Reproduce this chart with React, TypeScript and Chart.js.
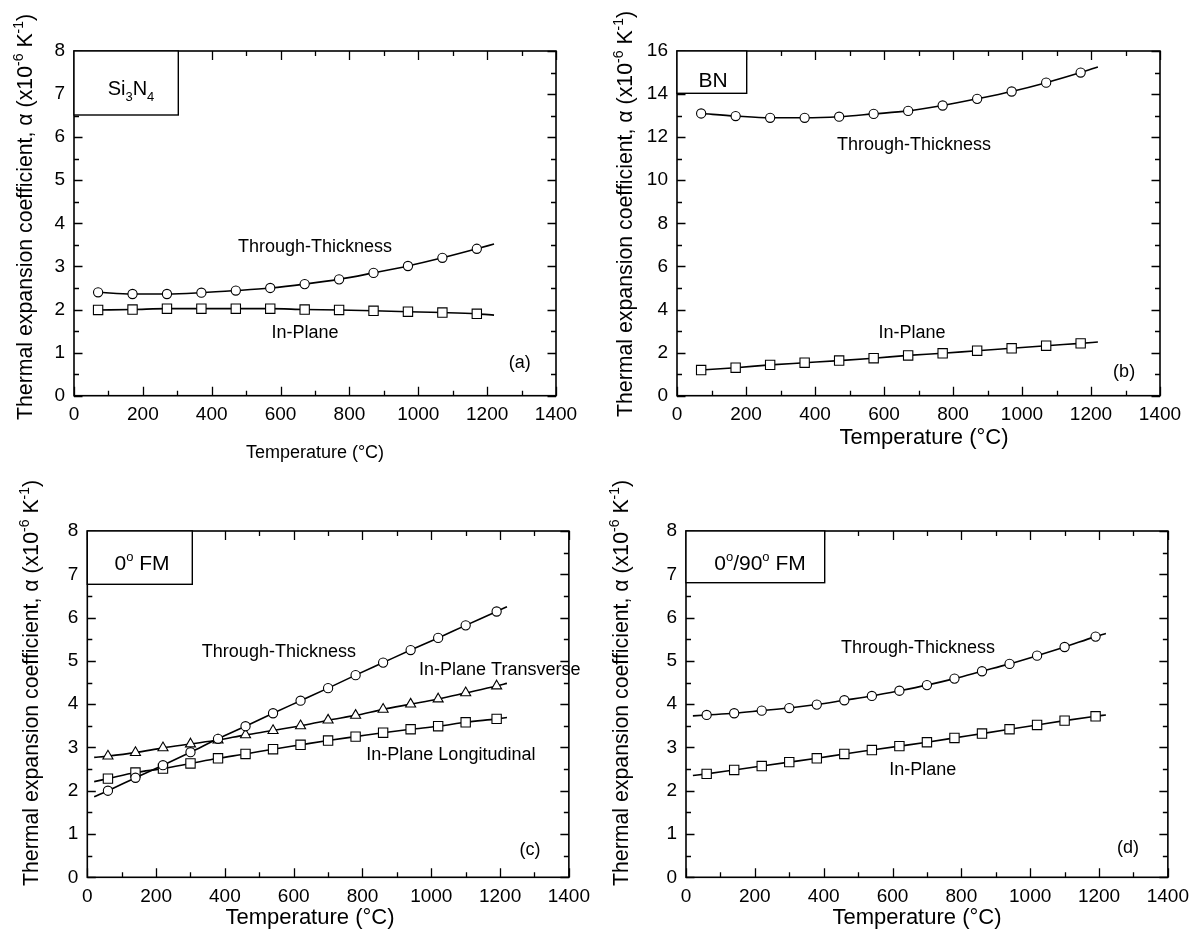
import React, { useEffect, useRef } from "react";
import { Chart, registerables } from "chart.js";

Chart.register(...registerables);

const FONT = '"Liberation Sans", Arial, Helvetica, sans-serif';

// ---------------- DATA ----------------
const X_TICKS_MAX = 1400;
const TEMP_AB = [70, 170, 270, 370, 470, 570, 670, 770, 870, 970, 1070, 1170];
const TEMP_CD = [60, 140, 220, 300, 380, 460, 540, 620, 700, 780, 860, 940, 1020, 1100, 1190];
const FIT_START_CD = 20;
const FIT_END = 1220;

// (a) Si3N4
const SI3N4_THROUGH = [2.4, 2.36, 2.36, 2.39, 2.44, 2.5, 2.59, 2.7, 2.85, 3.01, 3.2, 3.41];
const SI3N4_THROUGH_END = 3.52;
const SI3N4_INPLANE = [1.99, 2.0, 2.02, 2.02, 2.02, 2.02, 2.0, 1.99, 1.97, 1.95, 1.93, 1.9];
const SI3N4_INPLANE_END = 1.87;

// (b) BN
const BN_THROUGH = [13.1, 12.98, 12.9, 12.9, 12.95, 13.08, 13.22, 13.47, 13.78, 14.12, 14.53, 15.0];
const BN_THROUGH_END = 15.26;
const BN_INPLANE = [1.19, 1.3, 1.43, 1.53, 1.63, 1.74, 1.87, 1.97, 2.09, 2.2, 2.32, 2.43];
const BN_INPLANE_END = 2.49;

// (c) 0° FM
const FM0_THROUGH = [2.0, 2.3, 2.59, 2.89, 3.2, 3.49, 3.79, 4.08, 4.37, 4.67, 4.96, 5.25, 5.53, 5.82, 6.14];
const FM0_THROUGH_START = 1.86;
const FM0_THROUGH_END = 6.25;
const FM0_TRANSVERSE = [2.8, 2.88, 2.99, 3.08, 3.17, 3.29, 3.39, 3.5, 3.63, 3.74, 3.88, 4.0, 4.12, 4.26, 4.42];
const FM0_TRANSVERSE_START = 2.77;
const FM0_TRANSVERSE_END = 4.48;
const FM0_LONGITUDINAL = [2.28, 2.42, 2.51, 2.63, 2.75, 2.85, 2.96, 3.06, 3.16, 3.25, 3.34, 3.42, 3.49, 3.58, 3.66];
const FM0_LONGITUDINAL_START = 2.21;
const FM0_LONGITUDINAL_END = 3.69;

// (d) 0°/90° FM
const FM090_THROUGH = [3.75, 3.79, 3.85, 3.91, 3.99, 4.09, 4.19, 4.31, 4.44, 4.59, 4.76, 4.93, 5.12, 5.32, 5.56];
const FM090_THROUGH_START = 3.73;
const FM090_THROUGH_END = 5.63;
const FM090_INPLANE = [2.39, 2.48, 2.57, 2.66, 2.75, 2.85, 2.94, 3.03, 3.12, 3.22, 3.32, 3.42, 3.52, 3.62, 3.72];
const FM090_INPLANE_START = 2.35;
const FM090_INPLANE_END = 3.75;

// Text labels
const LABEL_THROUGH = "Through-Thickness";
const LABEL_INPLANE = "In-Plane";
const LABEL_TRANSVERSE = "In-Plane Transverse";
const LABEL_LONGITUDINAL = "In-Plane Longitudinal";
const X_TITLE = "Temperature (°C)";

// ---------------- HELPERS ----------------
type Seg = { t: string; s?: "sup" | "sub" };
type Marker = "circle" | "rect" | "triangle";

const Y_TITLE: Seg[] = [
  { t: "Thermal expansion coefficient, α (x10" },
  { t: "-6", s: "sup" },
  { t: " K" },
  { t: "-1", s: "sup" },
  { t: ")" },
];

function series(temps: number[], vals: number[], marker: Marker, start: [number, number] | null, end: [number, number]) {
  const data: any[] = [];
  if (start) data.push({ x: start[0], y: start[1], e: true });
  temps.forEach((t, i) => data.push({ x: t, y: vals[i] }));
  data.push({ x: end[0], y: end[1], e: true });
  return { data, marker };
}

function segFont(seg: Seg, size: number) {
  return `${seg.s ? Math.round(size * 0.64) : size}px ${FONT}`;
}
function richWidth(ctx: CanvasRenderingContext2D, segs: Seg[], size: number) {
  let w = 0;
  for (const s of segs) {
    ctx.font = segFont(s, size);
    w += ctx.measureText(s.t).width;
  }
  return w;
}
function drawRich(ctx: CanvasRenderingContext2D, segs: Seg[], x: number, y: number, size: number, align: "left" | "center") {
  const w = richWidth(ctx, segs, size);
  let cx = align === "center" ? x - w / 2 : x;
  ctx.textAlign = "left";
  ctx.textBaseline = "alphabetic";
  for (const s of segs) {
    ctx.font = segFont(s, size);
    const dy = s.s === "sup" ? -size * 0.42 : s.s === "sub" ? size * 0.3 : 0;
    ctx.fillText(s.t, cx, y + dy);
    cx += ctx.measureText(s.t).width;
  }
}

type Panel = {
  id: string;
  left: number; top: number; w: number; h: number;
  plotL: number; plotT: number; plotR: number; plotB: number;
  yMax: number; yStep: number; yMinor: number;
  series: { data: any[]; marker: Marker }[];
  labels: { t: string; x: number; y: number }[];
  box: { w: number; h: number; tx: number; ty: number; segs: Seg[]; size: number };
  yTitle: { x: number; y: number };
  xTitle: { x: number; y: number; size: number };
};

const PANELS: Panel[] = [
  {
    id: "a", left: 0, top: 0, w: 598, h: 470,
    plotL: 74, plotT: 51, plotR: 556, plotB: 395.7,
    yMax: 8, yStep: 1, yMinor: 0.5,
    series: [
      series(TEMP_AB, SI3N4_THROUGH, "circle", null, [FIT_END, SI3N4_THROUGH_END]),
      series(TEMP_AB, SI3N4_INPLANE, "rect", null, [FIT_END, SI3N4_INPLANE_END]),
    ],
    labels: [
      { t: LABEL_THROUGH, x: 700, y: 3.46 },
      { t: LABEL_INPLANE, x: 671, y: 1.45 },
      { t: "(a)", x: 1295, y: 0.76 },
    ],
    box: { w: 104.3, h: 64, tx: 57, ty: 37, size: 20, segs: [{ t: "Si" }, { t: "3", s: "sub" }, { t: "N" }, { t: "4", s: "sub" }] },
    yTitle: { x: 31.5, y: 420 },
    xTitle: { x: 315, y: 458, size: 18 },
  },
  {
    id: "b", left: 598, top: 0, w: 599, h: 470,
    plotL: 677, plotT: 51, plotR: 1160, plotB: 395.7,
    yMax: 16, yStep: 2, yMinor: 1,
    series: [
      series(TEMP_AB, BN_THROUGH, "circle", null, [FIT_END, BN_THROUGH_END]),
      series(TEMP_AB, BN_INPLANE, "rect", null, [FIT_END, BN_INPLANE_END]),
    ],
    labels: [
      { t: LABEL_THROUGH, x: 687, y: 11.64 },
      { t: LABEL_INPLANE, x: 681, y: 2.92 },
      { t: "(b)", x: 1296, y: 1.12 },
    ],
    box: { w: 69.7, h: 42.3, tx: 36, ty: 28, size: 21, segs: [{ t: "BN" }] },
    yTitle: { x: 632, y: 417 },
    xTitle: { x: 924, y: 444, size: 22 },
  },
  {
    id: "c", left: 0, top: 470, w: 598, h: 473,
    plotL: 87.3, plotT: 531, plotR: 569, plotB: 877.3,
    yMax: 8, yStep: 1, yMinor: 0.5,
    series: [
      series(TEMP_CD, FM0_THROUGH, "circle", [FIT_START_CD, FM0_THROUGH_START], [FIT_END, FM0_THROUGH_END]),
      series(TEMP_CD, FM0_TRANSVERSE, "triangle", [FIT_START_CD, FM0_TRANSVERSE_START], [FIT_END, FM0_TRANSVERSE_END]),
      series(TEMP_CD, FM0_LONGITUDINAL, "rect", [FIT_START_CD, FM0_LONGITUDINAL_START], [FIT_END, FM0_LONGITUDINAL_END]),
    ],
    labels: [
      { t: LABEL_THROUGH, x: 557, y: 5.21 },
      { t: LABEL_TRANSVERSE, x: 1199, y: 4.79 },
      { t: LABEL_LONGITUDINAL, x: 1057, y: 2.83 },
      { t: "(c)", x: 1287, y: 0.63 },
    ],
    box: { w: 105, h: 53.3, tx: 54.7, ty: 31, size: 21, segs: [{ t: "0" }, { t: "o", s: "sup" }, { t: " FM" }] },
    yTitle: { x: 38, y: 886 },
    xTitle: { x: 310, y: 924, size: 22 },
  },
  {
    id: "d", left: 598, top: 470, w: 599, h: 473,
    plotL: 686, plotT: 531, plotR: 1169.3, plotB: 877.3,
    yMax: 8, yStep: 1, yMinor: 0.5,
    series: [
      series(TEMP_CD, FM090_THROUGH, "circle", [FIT_START_CD, FM090_THROUGH_START], [FIT_END, FM090_THROUGH_END]),
      series(TEMP_CD, FM090_INPLANE, "rect", [FIT_START_CD, FM090_INPLANE_START], [FIT_END, FM090_INPLANE_END]),
    ],
    labels: [
      { t: LABEL_THROUGH, x: 674, y: 5.3 },
      { t: LABEL_INPLANE, x: 688, y: 2.48 },
      { t: "(d)", x: 1284, y: 0.67 },
    ],
    box: { w: 138.7, h: 51.7, tx: 74, ty: 31.7, size: 21, segs: [{ t: "0" }, { t: "o", s: "sup" }, { t: "/90" }, { t: "o", s: "sup" }, { t: " FM" }] },
    yTitle: { x: 628, y: 886 },
    xTitle: { x: 917, y: 924, size: 22 },
  },
];

const X_AXIS_H = 30;
const TICK_FONT = 19;
const MARKER_R: Record<Marker, number> = { circle: 4.6, rect: 6.6, triangle: 5.8 };

function makeDecor(p: Panel) {
  return {
    id: "decor_" + p.id,
    afterDraw(chart: any) {
      const ctx: CanvasRenderingContext2D = chart.ctx;
      const { left, right, top, bottom } = chart.chartArea;
      const xs = chart.scales.x;
      const ys = chart.scales.y;
      ctx.save();
      ctx.strokeStyle = "#000";
      ctx.fillStyle = "#000";
      // ticks
      ctx.lineWidth = 1.3;
      ctx.beginPath();
      for (let v = 0; v <= X_TICKS_MAX; v += 100) {
        const px = Math.round(xs.getPixelForValue(v)) + 0.5;
        const L = v % 200 === 0 ? 9 : 5;
        ctx.moveTo(px, bottom); ctx.lineTo(px, bottom - L);
        ctx.moveTo(px, top); ctx.lineTo(px, top + L);
      }
      const n = Math.round(p.yMax / p.yMinor);
      const every = Math.round(p.yStep / p.yMinor);
      for (let k = 0; k <= n; k++) {
        const v = k * p.yMinor;
        const py = Math.round(ys.getPixelForValue(v)) + 0.5;
        const L = k % every === 0 ? 8.5 : 5;
        ctx.moveTo(left, py); ctx.lineTo(left + L, py);
        ctx.moveTo(right, py); ctx.lineTo(right - L, py);
      }
      ctx.stroke();
      // frame
      ctx.lineWidth = 1.6;
      ctx.strokeRect(left, top, right - left, bottom - top);
      // inset box
      ctx.fillStyle = "#fff";
      ctx.fillRect(left, top, p.box.w, p.box.h);
      ctx.lineWidth = 1.4;
      ctx.strokeRect(left, top, p.box.w, p.box.h);
      ctx.fillStyle = "#000";
      drawRich(ctx, p.box.segs, left + p.box.tx, top + p.box.ty + p.box.size * 0.36, p.box.size, "center");
      // labels
      ctx.font = `18px ${FONT}`;
      ctx.textAlign = "center";
      ctx.textBaseline = "middle";
      for (const l of p.labels) {
        ctx.fillText(l.t, xs.getPixelForValue(l.x), ys.getPixelForValue(l.y));
      }
      // x title
      ctx.font = `${p.xTitle.size}px ${FONT}`;
      ctx.textAlign = "center";
      ctx.textBaseline = "alphabetic";
      ctx.fillText(X_TITLE, p.xTitle.x - p.left, p.xTitle.y - p.top);
      // y title
      ctx.translate(p.yTitle.x - p.left, p.yTitle.y - p.top);
      ctx.rotate(-Math.PI / 2);
      drawRich(ctx, Y_TITLE, 0, 0, 21.3, "left");
      ctx.restore();
    },
  };
}

function buildConfig(p: Panel): any {
  const lw = p.plotL - p.left;
  return {
    type: "scatter",
    data: {
      datasets: p.series.map((s) => ({
        data: s.data,
        showLine: true,
        borderColor: "#000",
        borderWidth: 1.6,
        cubicInterpolationMode: "monotone",
        pointStyle: s.marker,
        pointRadius: (c: any) => (c.raw && c.raw.e ? 0 : MARKER_R[s.marker]),
        pointBackgroundColor: "#fff",
        pointBorderColor: "#000",
        pointBorderWidth: 1.1,
        clip: false,
      })),
    },
    plugins: [makeDecor(p)],
    options: {
      responsive: false,
      animation: false,
      events: [],
      devicePixelRatio: 1,
      layout: {
        padding: {
          top: p.plotT - p.top,
          left: 0,
          right: p.left + p.w - p.plotR,
          bottom: p.top + p.h - p.plotB - X_AXIS_H,
        },
      },
      plugins: { legend: { display: false }, tooltip: { enabled: false }, title: { display: false } },
      scales: {
        x: {
          type: "linear",
          min: 0,
          max: X_TICKS_MAX,
          grid: { display: false, drawTicks: false },
          border: { display: false },
          ticks: {
            stepSize: 200, autoSkip: false, maxRotation: 0, color: "#000", padding: 8,
            font: { family: FONT, size: TICK_FONT },
            callback: (v: any) => String(v),
          },
          afterFit: (s: any) => { s.height = X_AXIS_H; },
        },
        y: {
          type: "linear",
          min: 0,
          max: p.yMax,
          grid: { display: false, drawTicks: false },
          border: { display: false },
          ticks: {
            stepSize: p.yStep, autoSkip: false, color: "#000", padding: 9,
            font: { family: FONT, size: TICK_FONT },
            callback: (v: any) => String(v),
          },
          afterFit: (s: any) => { s.width = lw; },
        },
      },
    },
  };
}

function PanelChart({ cfg }: { cfg: Panel }) {
  const ref = useRef<HTMLCanvasElement>(null);
  useEffect(() => {
    const chart = new Chart(ref.current as HTMLCanvasElement, buildConfig(cfg));
    return () => chart.destroy();
  }, [cfg]);
  return (
    <canvas
      ref={ref}
      width={cfg.w}
      height={cfg.h}
      style={{ position: "absolute", left: cfg.left, top: cfg.top, width: cfg.w, height: cfg.h }}
    />
  );
}

export default function App() {
  return (
    <div style={{ position: "absolute", left: 0, top: 0, width: 1197, height: 943, background: "#fff", overflow: "hidden" }}>
      {PANELS.map((p) => (
        <PanelChart key={p.id} cfg={p} />
      ))}
    </div>
  );
}
